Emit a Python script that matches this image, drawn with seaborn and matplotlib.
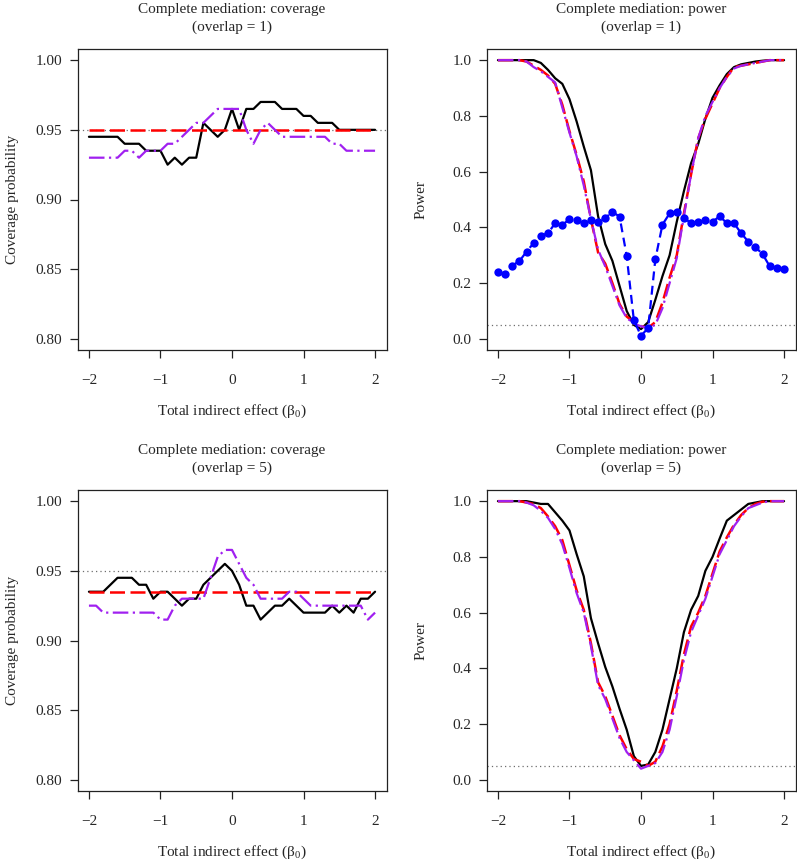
import matplotlib
matplotlib.use("Agg")
import matplotlib.pyplot as plt
import pandas as pd
import seaborn as sns

# ---------------- data ----------------
beta = [-2.0, -1.9, -1.8, -1.7, -1.6, -1.5, -1.4, -1.3, -1.2, -1.1, -1.0,
        -0.9, -0.8, -0.7, -0.6, -0.5, -0.4, -0.3, -0.2, -0.1, 0.0,
        0.1, 0.2, 0.3, 0.4, 0.5, 0.6, 0.7, 0.8, 0.9, 1.0,
        1.1, 1.2, 1.3, 1.4, 1.5, 1.6, 1.7, 1.8, 1.9, 2.0]

# Coverage, overlap = 1
cov1_black = [0.945, 0.945, 0.945, 0.945, 0.945, 0.94, 0.94, 0.94, 0.935, 0.935, 0.935,
              0.925, 0.93, 0.925, 0.93, 0.93, 0.955, 0.95, 0.945, 0.95, 0.965,
              0.95, 0.965, 0.965, 0.97, 0.97, 0.97, 0.965, 0.965, 0.965, 0.96,
              0.96, 0.955, 0.955, 0.955, 0.95, 0.95, 0.95, 0.95, 0.95, 0.95]
cov1_red = [0.95, 0.95, 0.95, 0.95, 0.95, 0.95, 0.95, 0.95, 0.95, 0.95, 0.95,
            0.95, 0.95, 0.95, 0.95, 0.95, 0.95, 0.95, 0.95, 0.95, 0.95,
            0.95, 0.95, 0.95, 0.95, 0.95, 0.95, 0.95, 0.95, 0.95, 0.95,
            0.95, 0.95, 0.95, 0.95, 0.95, 0.95, 0.95, 0.95, 0.95, 0.95]
cov1_purple = [0.93, 0.93, 0.93, 0.93, 0.93, 0.935, 0.935, 0.93, 0.935, 0.935, 0.935,
               0.94, 0.94, 0.945, 0.95, 0.955, 0.955, 0.96, 0.965, 0.965, 0.965,
               0.965, 0.95, 0.94, 0.95, 0.955, 0.95, 0.945, 0.945, 0.945, 0.945,
               0.945, 0.945, 0.945, 0.94, 0.94, 0.935, 0.935, 0.935, 0.935, 0.935]

# Power, overlap = 1
pow1_black = [1.0, 1.0, 1.0, 1.0, 1.0, 1.0, 0.99, 0.965, 0.935, 0.915, 0.86,
              0.78, 0.69, 0.605, 0.44, 0.34, 0.28, 0.19, 0.10, 0.05, 0.035,
              0.06, 0.14, 0.225, 0.30, 0.42, 0.53, 0.63, 0.70, 0.79, 0.865,
              0.91, 0.95, 0.975, 0.985, 0.99, 0.995, 0.998, 1.0, 1.0, 1.0]
pow1_red = [1.0, 1.0, 1.0, 1.0, 0.995, 0.98, 0.965, 0.945, 0.915, 0.84, 0.745,
            0.66, 0.565, 0.43, 0.31, 0.27, 0.2, 0.125, 0.08, 0.06, 0.045,
            0.04, 0.06, 0.13, 0.22, 0.30, 0.45, 0.59, 0.72, 0.79, 0.845,
            0.90, 0.94, 0.975, 0.98, 0.985, 0.99, 0.995, 1.0, 1.0, 1.0]
pow1_purple = [1.0, 1.0, 1.0, 1.0, 0.995, 0.975, 0.96, 0.94, 0.92, 0.83, 0.74,
               0.655, 0.55, 0.43, 0.32, 0.26, 0.19, 0.12, 0.075, 0.055, 0.045,
               0.04, 0.05, 0.11, 0.20, 0.29, 0.44, 0.59, 0.72, 0.80, 0.85,
               0.90, 0.94, 0.97, 0.98, 0.985, 0.99, 0.995, 1.0, 1.0, 1.0]
pow1_blue = [0.239, 0.234, 0.263, 0.279, 0.313, 0.344, 0.370, 0.379, 0.415, 0.409, 0.429,
             0.425, 0.415, 0.425, 0.420, 0.434, 0.455, 0.439, 0.298, 0.067, 0.011,
             0.039, 0.285, 0.410, 0.450, 0.455, 0.434, 0.415, 0.420, 0.425, 0.420,
             0.440, 0.415, 0.415, 0.379, 0.349, 0.329, 0.304, 0.260, 0.255, 0.249]

# Coverage, overlap = 5
cov5_black = [0.935, 0.935, 0.935, 0.94, 0.945, 0.945, 0.945, 0.94, 0.94, 0.93, 0.935,
              0.935, 0.93, 0.925, 0.93, 0.93, 0.94, 0.945, 0.95, 0.955, 0.95,
              0.94, 0.925, 0.925, 0.915, 0.92, 0.925, 0.925, 0.93, 0.925, 0.92,
              0.92, 0.92, 0.92, 0.925, 0.92, 0.925, 0.92, 0.93, 0.93, 0.935]
cov5_red = [0.935, 0.935, 0.935, 0.935, 0.935, 0.935, 0.935, 0.935, 0.935, 0.935, 0.935,
            0.935, 0.935, 0.935, 0.935, 0.935, 0.935, 0.935, 0.935, 0.935, 0.935,
            0.935, 0.935, 0.935, 0.935, 0.935, 0.935, 0.935, 0.935, 0.935, 0.935,
            0.935, 0.935, 0.935, 0.935, 0.935, 0.935, 0.935, 0.935, 0.935, 0.935]
cov5_purple = [0.925, 0.925, 0.92, 0.92, 0.92, 0.92, 0.92, 0.92, 0.92, 0.92, 0.915,
               0.915, 0.925, 0.93, 0.93, 0.93, 0.93, 0.945, 0.96, 0.965, 0.965,
               0.955, 0.945, 0.94, 0.93, 0.93, 0.93, 0.93, 0.935, 0.935, 0.93,
               0.925, 0.925, 0.925, 0.925, 0.925, 0.925, 0.925, 0.925, 0.915, 0.92]

# Power, overlap = 5
pow5_black = [1.0, 1.0, 1.0, 1.0, 1.0, 0.995, 0.99, 0.99, 0.96, 0.93, 0.895,
              0.81, 0.73, 0.58, 0.49, 0.405, 0.335, 0.255, 0.18, 0.085, 0.05,
              0.055, 0.10, 0.18, 0.29, 0.40, 0.53, 0.61, 0.66, 0.75, 0.80,
              0.866, 0.93, 0.95, 0.97, 0.99, 0.995, 1.0, 1.0, 1.0, 1.0]
pow5_red = [1.0, 1.0, 1.0, 1.0, 0.995, 0.99, 0.975, 0.945, 0.91, 0.86, 0.77,
            0.68, 0.61, 0.49, 0.35, 0.30, 0.23, 0.16, 0.11, 0.075, 0.065,
            0.05, 0.065, 0.12, 0.20, 0.32, 0.45, 0.55, 0.60, 0.66, 0.74,
            0.82, 0.87, 0.915, 0.95, 0.975, 0.99, 0.998, 1.0, 1.0, 1.0]
pow5_purple = [1.0, 1.0, 1.0, 1.0, 0.995, 0.985, 0.965, 0.94, 0.90, 0.845, 0.76,
               0.67, 0.60, 0.48, 0.34, 0.29, 0.22, 0.15, 0.10, 0.07, 0.04,
               0.05, 0.06, 0.10, 0.18, 0.30, 0.43, 0.53, 0.59, 0.65, 0.73,
               0.81, 0.86, 0.91, 0.945, 0.975, 0.985, 0.995, 1.0, 1.0, 1.0]

x_ticks = [-2, -1, 0, 1, 2]
x_tick_labels = ["\u22122", "\u22121", "0", "1", "2"]
cov_ticks = [0.80, 0.85, 0.90, 0.95, 1.00]
cov_tick_labels = ["0.80", "0.85", "0.90", "0.95", "1.00"]
pow_ticks = [0.0, 0.2, 0.4, 0.6, 0.8, 1.0]
pow_tick_labels = ["0.0", "0.2", "0.4", "0.6", "0.8", "1.0"]
ref_cov = 0.95
ref_pow = 0.05

titles = ["Complete mediation: coverage\n(overlap = 1)",
          "Complete mediation: power\n(overlap = 1)",
          "Complete mediation: coverage\n(overlap = 5)",
          "Complete mediation: power\n(overlap = 5)"]
xlabel = "Total indirect effect (\u03b2$_0$)"

# ---------------- style ----------------
sns.set_style("ticks")
plt.rcParams['font.family'] = ['Liberation Serif', 'DejaVu Serif']
plt.rcParams['mathtext.fontset'] = 'custom'
plt.rcParams['mathtext.rm'] = 'Liberation Serif'
plt.rcParams['mathtext.it'] = 'Liberation Serif:italic'
plt.rcParams['axes.unicode_minus'] = True

FS = 11
LW = 1.6
C_BLACK = "#000000"
C_RED = "#FF0000"
C_PURPLE = "#A020F0"
C_BLUE = "#0000FF"
LS_RED = (0, (6, 2.2))
LS_PURPLE = (0, (7, 2, 1, 2))
LS_BLUE = (0, (4, 2.5))
LS_REF = (0, (1, 2.5))

W, H = 797, 860
fig = plt.figure(figsize=(W / 100, H / 100), dpi=100)


def make_axes(x0, ytop, w=309, h=301):
    return fig.add_axes([x0 / W, 1 - (ytop + h) / H, w / W, h / H])


def setup(ax, title, ylabel, yticks, yticklabels, ylim, ref):
    ax.axhline(ref, color="#6e6e6e", lw=0.9, ls=LS_REF, zorder=1)
    ax.set_xlim(-2.16, 2.16)
    ax.set_ylim(*ylim)
    ax.set_xticks(x_ticks)
    ax.set_xticklabels(x_tick_labels, fontsize=FS)
    ax.set_yticks(yticks)
    ax.set_yticklabels(yticklabels, fontsize=FS)
    ax.tick_params(axis='both', direction='out', length=6, width=0.9, color="#222222")
    ax.tick_params(axis='x', pad=11)
    ax.tick_params(axis='y', pad=5)
    for sp in ax.spines.values():
        sp.set_visible(True)
        sp.set_color("#222222")
        sp.set_linewidth(0.9)
    ax.set_xlabel(xlabel, fontsize=FS)
    ax.set_ylabel(ylabel, fontsize=FS)
    ax.xaxis.set_label_coords(0.5, -0.175)
    ax.yaxis.set_label_coords(-0.19, 0.5)
    ax.text(0.5, 1.05, title, transform=ax.transAxes, ha='center', va='bottom',
            fontsize=FS, linespacing=1.4)


def draw(ax, df, blue=False):
    sns.lineplot(data=df, x="beta", y="black", ax=ax, color=C_BLACK, lw=LW,
                 zorder=3, estimator=None, sort=False)
    sns.lineplot(data=df, x="beta", y="red", ax=ax, color=C_RED, lw=LW + 0.2,
                 linestyle=LS_RED, zorder=4, estimator=None, sort=False)
    sns.lineplot(data=df, x="beta", y="purple", ax=ax, color=C_PURPLE, lw=LW,
                 linestyle=LS_PURPLE, zorder=5, estimator=None, sort=False)
    if blue:
        sns.lineplot(data=df, x="beta", y="blue", ax=ax, color=C_BLUE, lw=LW,
                     linestyle=LS_BLUE, marker="o", markersize=6,
                     markeredgewidth=0, zorder=6, estimator=None, sort=False)


df1 = pd.DataFrame({"beta": beta, "black": cov1_black, "red": cov1_red, "purple": cov1_purple})
df2 = pd.DataFrame({"beta": beta, "black": pow1_black, "red": pow1_red,
                    "purple": pow1_purple, "blue": pow1_blue})
df3 = pd.DataFrame({"beta": beta, "black": cov5_black, "red": cov5_red, "purple": cov5_purple})
df4 = pd.DataFrame({"beta": beta, "black": pow5_black, "red": pow5_red, "purple": pow5_purple})

ax1 = make_axes(77.5, 49)
ax2 = make_axes(486.5, 49)
ax3 = make_axes(77.5, 490)
ax4 = make_axes(486.5, 490)

cov_lim = (0.792, 1.008)
pow_lim = (-0.04, 1.04)

draw(ax1, df1)
setup(ax1, titles[0], "Coverage probability", cov_ticks, cov_tick_labels, cov_lim, ref_cov)
draw(ax2, df2, blue=True)
setup(ax2, titles[1], "Power", pow_ticks, pow_tick_labels, pow_lim, ref_pow)
draw(ax3, df3)
setup(ax3, titles[2], "Coverage probability", cov_ticks, cov_tick_labels, cov_lim, ref_cov)
draw(ax4, df4)
setup(ax4, titles[3], "Power", pow_ticks, pow_tick_labels, pow_lim, ref_pow)

fig.savefig("out.png", dpi=100)
